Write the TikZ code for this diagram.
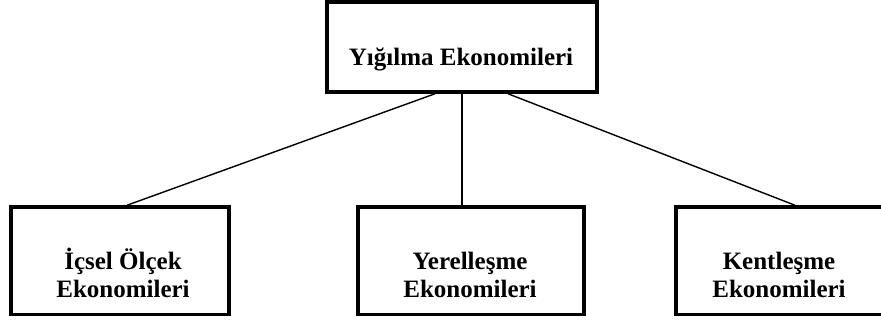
\documentclass[tikz,border=0pt]{standalone}
\usepackage{fontspec}
\setmainfont{Liberation Serif}
\usetikzlibrary{calc}
\begin{document}
\begin{tikzpicture}[x=1pt,y=-1pt,
  boxnode/.style={draw=black,line width=3.5pt,inner sep=0pt,fill=white},
  lbl/.style={anchor=base,inner sep=0pt,font=\fontsize{25}{28}\selectfont\bfseries},
  conn/.style={draw=black,line width=1.4pt}]
\useasboundingbox[fill=white] (0,0) rectangle (881,322);
% boxes
\node[boxnode,minimum width=270pt,minimum height=90pt] (top) at (462,47) {};
\node[boxnode,minimum width=218pt,minimum height=107.5pt] (left) at (120,260.75) {};
\node[boxnode,minimum width=226pt,minimum height=107.5pt] (mid) at (471,260.75) {};
\node[boxnode,minimum width=212pt,minimum height=107.5pt] (right) at (782,260.75) {};
% connectors
\draw[conn] ([xshift=-27pt]top.south) -- ([xshift=7pt]left.north);
\draw[conn] (top.south) -- ([xshift=-9pt]mid.north);
\draw[conn] ([xshift=46pt]top.south) -- ([xshift=13pt]right.north);
% labels
\node[lbl] (ttop) at (461,65) {Yığılma Ekonomileri};
\node[lbl] (tl1) at (123,269) {İçsel Ölçek};
\node[lbl] (tl2) at (123,297) {Ekonomileri};
\node[lbl] (tm1) at (470,269) {Yerelleşme};
\node[lbl] (tm2) at (470,297) {Ekonomileri};
\node[lbl] (tr1) at (779,269) {Kentleşme};
\node[lbl] (tr2) at (779,297) {Ekonomileri};
\end{tikzpicture}
\end{document}
